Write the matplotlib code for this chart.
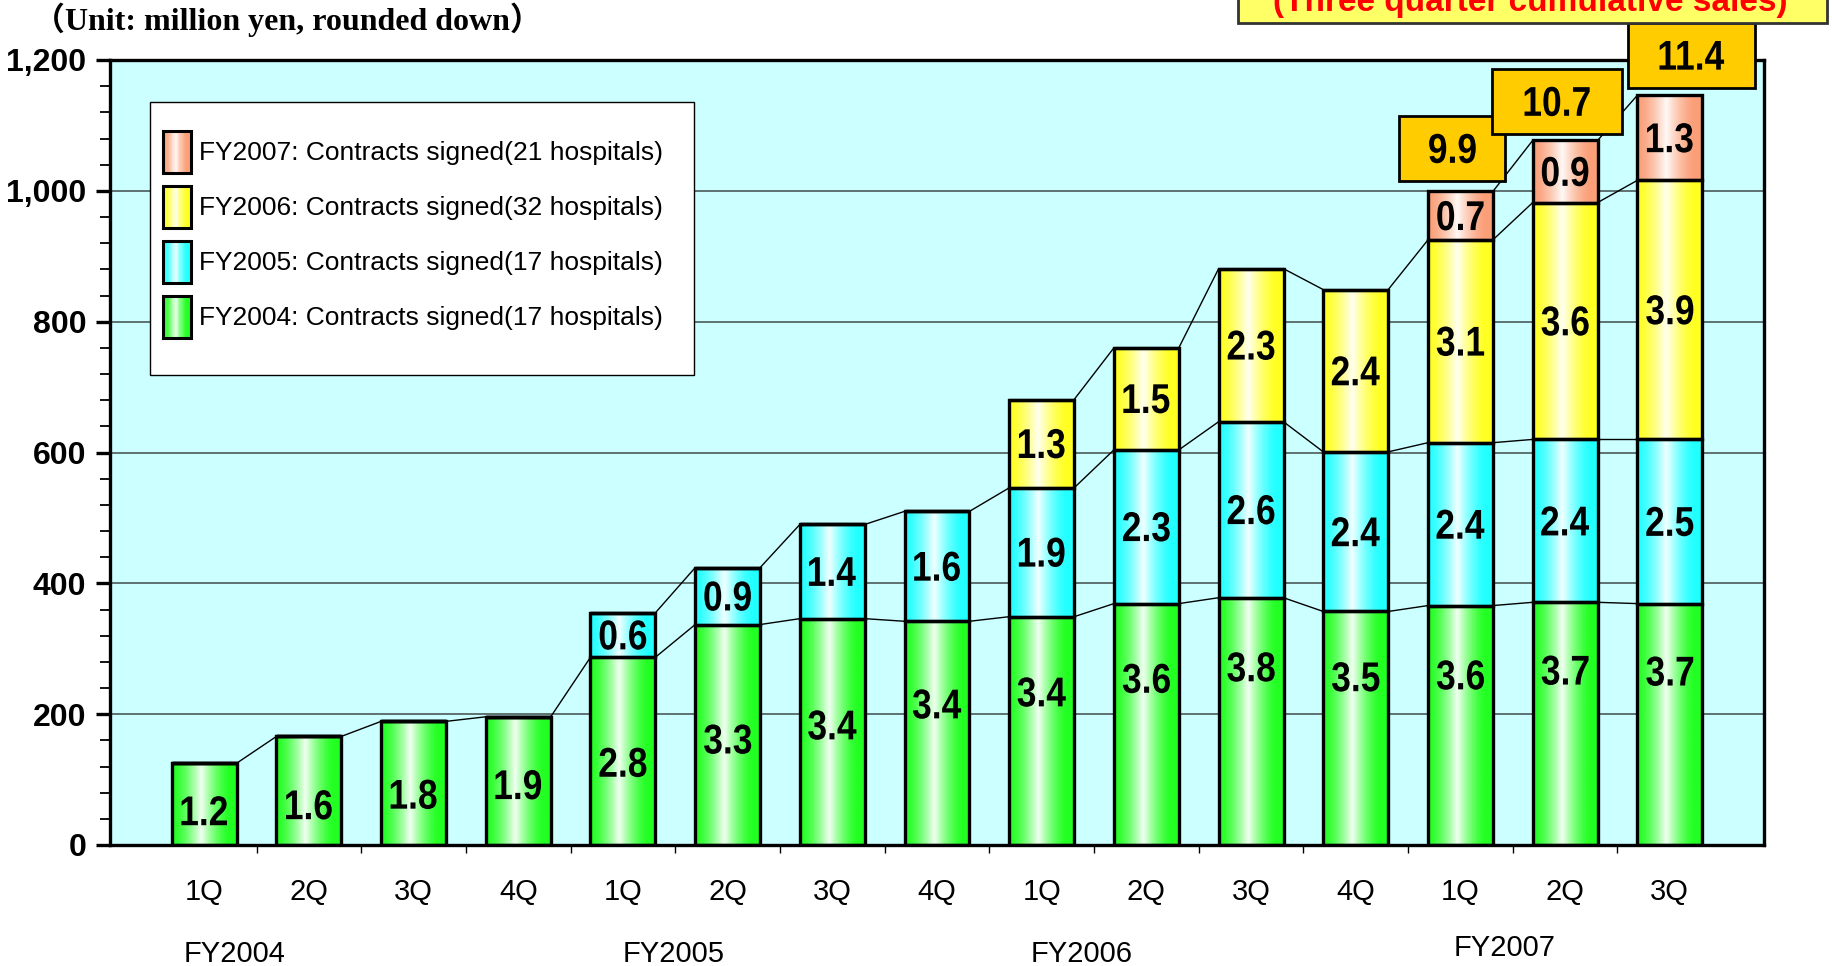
import numpy as np
import matplotlib
matplotlib.use("Agg")
import matplotlib.pyplot as plt
from matplotlib.patches import Rectangle, Patch, PathPatch
from matplotlib.legend_handler import HandlerBase
from matplotlib.ticker import MultipleLocator, FuncFormatter
from matplotlib.colors import to_rgb
from matplotlib.textpath import TextPath
from matplotlib.font_manager import FontProperties
from matplotlib.transforms import Affine2D, ScaledTranslation

plt.rcParams['font.family'] = ['Liberation Sans', 'DejaVu Sans']

# ---------------- data (million yen) ----------------
quarters = ['1Q', '2Q', '3Q', '4Q', '1Q', '2Q', '3Q', '4Q',
            '1Q', '2Q', '3Q', '4Q', '1Q', '2Q', '3Q']
fiscal_years = ['FY2004', 'FY2005', 'FY2006', 'FY2007']

fy2004 = [125, 166, 189, 196, 287, 337, 346, 342, 349, 369, 378, 357, 366, 371, 369]
fy2005 = [0, 0, 0, 0, 68, 87, 144, 168, 197, 235, 269, 244, 249, 249, 251]
fy2006 = [0, 0, 0, 0, 0, 0, 0, 0, 135, 156, 234, 248, 310, 362, 396]
fy2007 = [0, 0, 0, 0, 0, 0, 0, 0, 0, 0, 0, 0, 74, 95, 130]

lab2004 = ['1.2', '1.6', '1.8', '1.9', '2.8', '3.3', '3.4', '3.4', '3.4', '3.6',
           '3.8', '3.5', '3.6', '3.7', '3.7']
lab2005 = ['', '', '', '', '0.6', '0.9', '1.4', '1.6', '1.9', '2.3', '2.6', '2.4',
           '2.4', '2.4', '2.5']
lab2006 = ['', '', '', '', '', '', '', '', '1.3', '1.5', '2.3', '2.4', '3.1', '3.6', '3.9']
lab2007 = ['', '', '', '', '', '', '', '', '', '', '', '', '0.7', '0.9', '1.3']
total_labels = ['9.9', '10.7', '11.4']   # last three quarters

legend_labels = ['FY2007: Contracts signed(21 hospitals)',
                 'FY2006: Contracts signed(32 hospitals)',
                 'FY2005: Contracts signed(17 hospitals)',
                 'FY2004: Contracts signed(17 hospitals)']

# ---------------- styles / layout ----------------
colors = ['#22FF22', '#22FFFF', '#FFFF22', '#FA9F78']
bar_w = 0.62
green_label_frac = [0.42, 0.37, 0.41, 0.47, 0.44, 0.48, 0.53, 0.63, 0.67, 0.69,
                    0.72, 0.72, 0.71, 0.72, 0.72]
total_offsets = [(-8, 43), (-8, 39), (22, 40)]   # pixels
fy_x = [0.29, 4.48, 8.38, 12.42]
fy_y = [-0.139, -0.139, -0.139, -0.131]
NUM_SIZE = 30
NUM_SQUEEZE = 0.85
num_prop = FontProperties(family='Liberation Sans', weight='bold')


def grad(base, n=64):
    r = np.array(to_rgb(base))
    t = np.linspace(0, 1, n)
    w = np.clip(1 - np.abs(t - 0.45) / 0.45, 0, 1) ** 1.5 * 0.94
    return r[None, :] * (1 - w[:, None]) + w[:, None]


def narrow_text(ax, x, y, s, dx=0, dy=0, zorder=4, clip=True):
    # condensed number text, centred on its glyphs at data point (x, y) + pixel offset
    tp = TextPath((0, 0), s, size=NUM_SIZE, prop=num_prop)
    bb = tp.get_extents()
    k = ax.figure.dpi / 72
    tr = (Affine2D().translate(-(bb.x0 + bb.x1) / 2, -(bb.y0 + bb.y1) / 2)
          .scale(NUM_SQUEEZE * k, k).translate(dx, dy)
          + ScaledTranslation(x, y, ax.transData))
    p = PathPatch(tp, transform=tr, facecolor='black', lw=0, zorder=zorder)
    p.set_clip_on(clip)
    ax.add_patch(p)


class GradHandler(HandlerBase):
    def create_artists(self, legend, orig_handle, xdescent, ydescent,
                       width, height, fontsize, trans):
        cols = grad(orig_handle.get_facecolor(), 24)
        arts = []
        n = len(cols)
        for k in range(n):
            arts.append(Rectangle((-xdescent + k * width / n, -ydescent), width / n + 0.3,
                                  height, facecolor=cols[k], edgecolor='none', transform=trans))
        arts.append(Rectangle((-xdescent, -ydescent), width, height, fill=False,
                              edgecolor='black', lw=2.2, transform=trans))
        return arts


W, H = 1832, 966
fig = plt.figure(figsize=(W / 100, H / 100), dpi=100)
ax = fig.add_axes([110 / W, 1 - 845 / H, (1764 - 110) / W, (845 - 60) / H])
ax.set_facecolor('#CCFFFF')
ax.set_xlim(-0.9, 14.9)
ax.set_ylim(0, 1200)

x = np.arange(len(quarters))
series = [fy2004, fy2005, fy2006, fy2007]
labels = [lab2004, lab2005, lab2006, lab2007]
bottom = np.zeros(len(x))
for s, (vals, col, labs) in enumerate(zip(series, colors, labels)):
    vals = np.array(vals, dtype=float)
    bars = ax.bar(x, vals, bar_w, bottom=bottom, facecolor='none',
                  edgecolor='black', lw=2.4, zorder=3)
    img = grad(col)[None, :, :]
    for i, b in enumerate(bars):
        if vals[i] <= 0:
            continue
        ax.imshow(img, extent=[b.get_x(), b.get_x() + b.get_width(),
                               b.get_y(), b.get_y() + b.get_height()],
                  aspect='auto', interpolation='bilinear', zorder=2)
        if s == 0:
            ly = bottom[i] + vals[i] * green_label_frac[i]
        else:
            ly = bottom[i] + vals[i] / 2
        narrow_text(ax, x[i], ly, labs[i])
    top = bottom + vals
    # series lines between neighbouring bars
    for i in range(len(x) - 1):
        if vals[i] > 0 and vals[i + 1] > 0:
            ax.plot([x[i] + bar_w / 2, x[i + 1] - bar_w / 2], [top[i], top[i + 1]],
                    color='black', lw=1, zorder=2.5)
    bottom = top

ax.set_xlim(-0.9, 14.9)
ax.set_ylim(0, 1200)

# totals: box from an invisible text, number drawn condensed on top
for k, lab in enumerate(total_labels):
    i = len(x) - len(total_labels) + k
    ax.annotate(' ' + lab + ' ', xy=(x[i], bottom[i]), xytext=total_offsets[k],
                textcoords='offset pixels', ha='center', va='center', fontsize=NUM_SIZE,
                fontweight='bold', color='none', zorder=7, annotation_clip=False,
                bbox=dict(boxstyle='square,pad=0.3', facecolor='#FFCC00',
                          edgecolor='black', lw=2))
    narrow_text(ax, x[i], bottom[i], lab, dx=total_offsets[k][0], dy=total_offsets[k][1],
                zorder=8, clip=False)

# axes styling
ax.set_yticks(range(0, 1201, 200))
ax.yaxis.set_major_formatter(FuncFormatter(lambda v, p: f'{int(v):,}'))
ax.yaxis.set_minor_locator(MultipleLocator(40))
ax.tick_params(axis='y', which='major', length=10, width=2.4, labelsize=23, pad=7)
ax.tick_params(axis='y', which='minor', length=7, width=1.3)
for t in ax.get_yticklabels():
    t.set_fontweight('bold')
ax.set_xticks(np.arange(0.5, 14, 1))
ax.set_xticklabels([])
ax.tick_params(axis='x', which='major', length=6, width=1)
ax.yaxis.grid(True, color='#4d5a5a', lw=1.2)
ax.set_axisbelow(True)
for sp in ax.spines.values():
    sp.set_linewidth(2.4)
    sp.set_color('black')
    sp.set_zorder(6)

tr = ax.get_xaxis_transform()
for i, q in enumerate(quarters):
    ax.text(x[i], -0.060, q, transform=tr, ha='center', va='center', fontsize=21)
for fy, fx, fyy in zip(fiscal_years, fy_x, fy_y):
    ax.text(fx, fyy, fy, transform=tr, ha='center', va='center', fontsize=21)

# legend
ax.add_patch(Rectangle((0.0242, 0.5987), 0.3289, 0.3478, transform=ax.transAxes,
                       facecolor='white', edgecolor='black', lw=1, zorder=4.5))
handles = [Patch(facecolor=c) for c in colors[::-1]]
ax.legend(handles, legend_labels, handler_map={Patch: GradHandler()},
          loc='upper left', bbox_to_anchor=(0.032, 0.9096), frameon=False,
          fontsize=19, handlelength=1.06, handleheight=2.07, labelspacing=0.49,
          handletextpad=0.3, borderpad=0, borderaxespad=0)

# header texts
fig.add_artist(Rectangle((1238 / W, 1 - 23 / H), (1827 - 1238) / W, 0.1,
                         transform=fig.transFigure, facecolor='#FFFF66',
                         edgecolor='#333333', lw=2, clip_on=False))
fig.text(1530 / W, 1 - 10.5 / H, '(Three quarter cumulative sales)', color='red',
         fontweight='bold', fontsize=24, ha='center', va='baseline')
fig.text(33 / W, 1 - 20 / H, '（Unit: million yen, rounded down）',
         family=['Liberation Serif', 'Noto Sans CJK JP'], fontweight='bold',
         fontsize=23, va='center')

fig.savefig('out.png', dpi=100)
